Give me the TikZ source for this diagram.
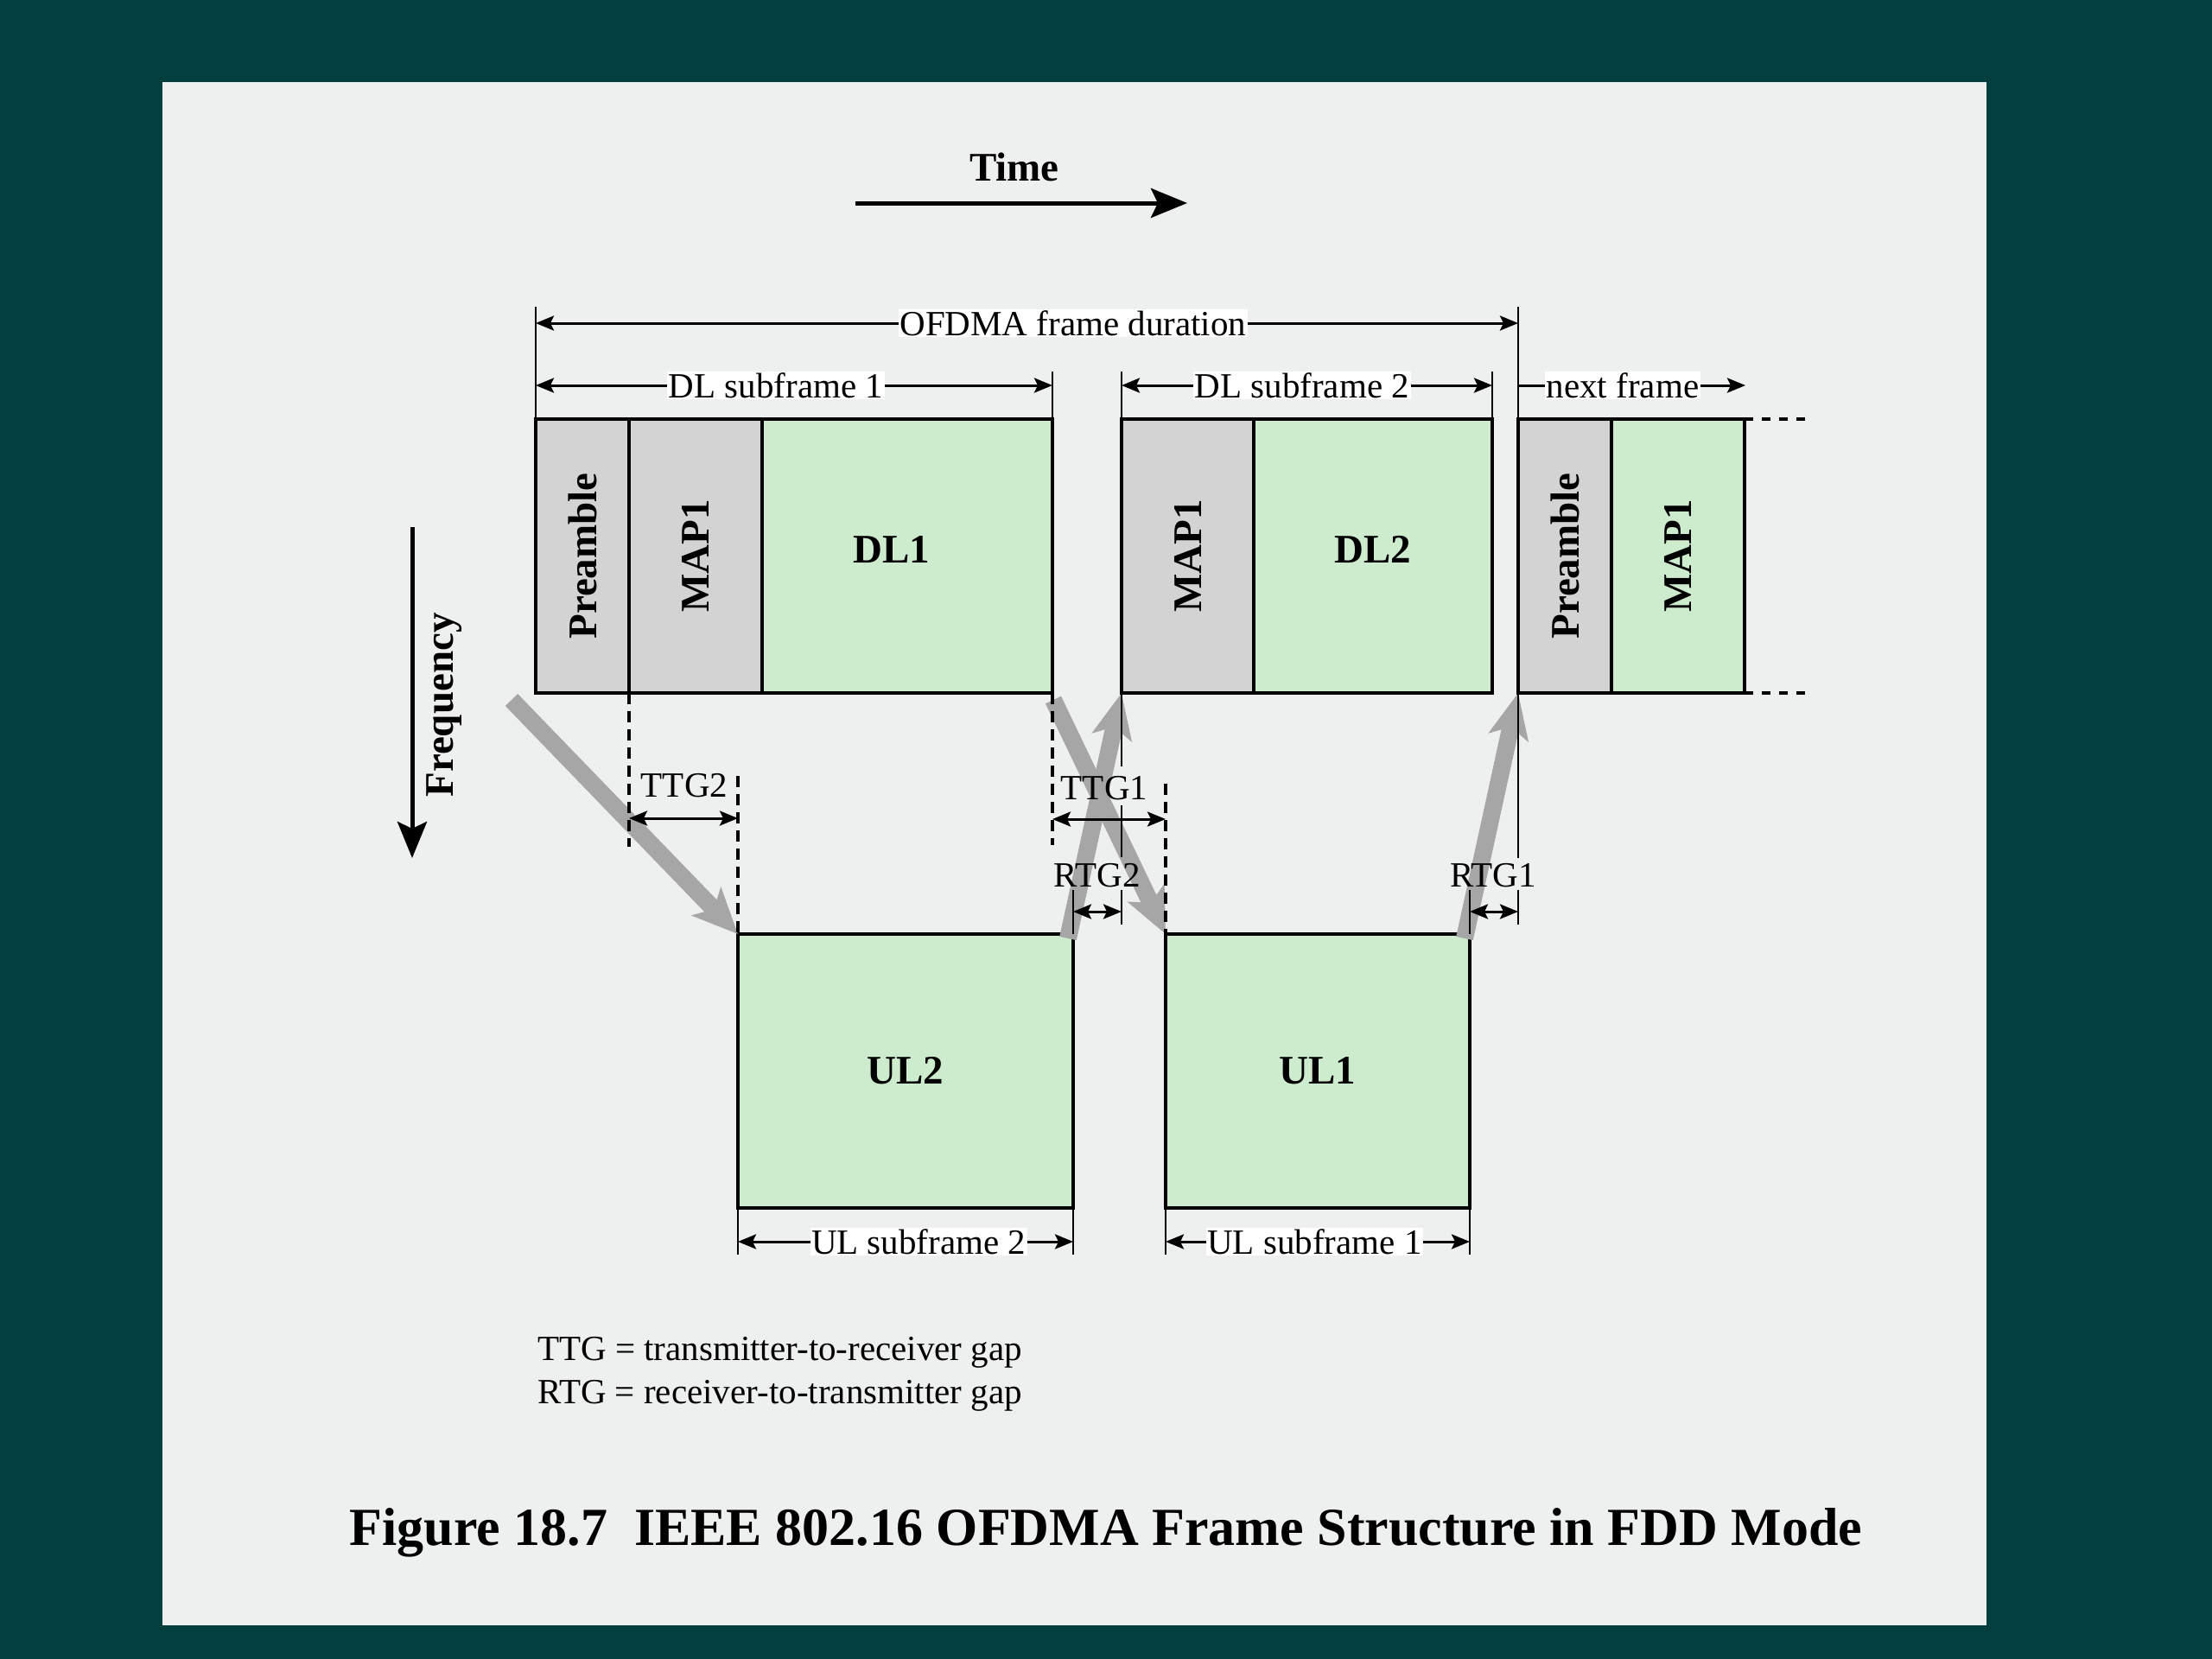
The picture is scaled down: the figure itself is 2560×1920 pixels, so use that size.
\documentclass[tikz,border=0pt]{standalone}
\usepackage{fontspec}
\setmainfont{Liberation Serif}
\usetikzlibrary{arrows.meta}
\definecolor{outerbg}{HTML}{033F3F}
\definecolor{panel}{HTML}{EEF0EF}
\definecolor{boxgray}{HTML}{D3D3D3}
\definecolor{boxgreen}{HTML}{CDEBCD}
\definecolor{arrgray}{HTML}{A6A6A6}
\begin{document}
\begin{tikzpicture}[x=1pt,y=-1pt,
  blk/.style={draw=black, line width=4.5pt, inner sep=0pt, outer sep=0pt, minimum height=317pt, anchor=north west, font=\fontsize{47}{56}\selectfont\bfseries},
  grayblk/.style={blk, fill=boxgray},
  greenblk/.style={blk, fill=boxgreen},
  dimline/.style={line width=3pt, {Stealth[length=21pt,width=17pt,inset=4pt]}-{Stealth[length=21pt,width=17pt,inset=4pt]}},
  oneway/.style={line width=3pt, -{Stealth[length=21pt,width=17pt,inset=4pt]}},
  tickline/.style={line width=2.8pt},
  gapdash/.style={line width=3.8pt, dash pattern=on 13pt off 8pt},
  contdash/.style={line width=4pt, dash pattern=on 10pt off 10pt},
  dlbl/.style={fill=white, inner sep=1.5pt, font=\fontsize{41}{49}\selectfont},
  glbl/.style={inner sep=0pt, font=\fontsize{41}{49}\selectfont},
  garrow/.style={draw=arrgray, line width=20pt, -{Stealth[length=52pt,width=46pt,inset=12pt]}},
  axisarrow/.style={line width=5pt, -{Stealth[length=42pt,width=34pt,inset=8pt]}},
  boldlbl/.style={font=\fontsize{47}{56}\selectfont\bfseries}
]
% background
\useasboundingbox (0,0) rectangle (2560,1920);
\fill[outerbg] (0,0) rectangle (2560,1920);
\fill[panel] (188,95) rectangle (2299,1881);

% Time axis
\node[boldlbl] (timelbl) at (1174,193) {Time};
\coordinate (tS) at (990,235);
\coordinate (tE) at (1374,235);
\draw[axisarrow] (tS) -- (tE);

% Frequency axis
\coordinate (fS) at (477,610);
\coordinate (fE) at (477,993);
\draw[axisarrow] (fS) -- (fE);
\node[boldlbl] (freqlbl) at (514,816) {\rotatebox{90}{Frequency}};

% top boxes
\node[grayblk, minimum width=108pt] (preA) at (620,485) {\rotatebox{90}{Preamble}};
\node[grayblk, minimum width=154pt] (mapA) at (728,485) {\rotatebox{90}{MAP1}};
\node[greenblk, minimum width=336pt] (dl1) at (882,485) {\hspace*{-36pt}\raisebox{16pt}{DL1}};
\node[grayblk, minimum width=153pt] (mapB) at (1298,485) {\rotatebox{90}{MAP1}};
\node[greenblk, minimum width=276pt] (dl2) at (1451,485) {\raisebox{16pt}{DL2}};
\node[grayblk, minimum width=108pt] (preC) at (1757,485) {\rotatebox{90}{Preamble}};
\node[greenblk, minimum width=154pt] (mapC) at (1865,485) {\rotatebox{90}{MAP1}};
% bottom boxes
\node[greenblk, minimum width=388pt] (ul2) at (854,1081) {UL2};
\node[greenblk, minimum width=352pt] (ul1) at (1349,1081) {UL1};

% continuation dashes
\coordinate (cT) at (2093,485);
\coordinate (cB) at (2093,802);
\draw[contdash] (mapC.north east) -- (cT);
\draw[contdash] (mapC.south east) -- (cB);

% gray transition arrows
\coordinate (g1) at (592,810);
\coordinate (g2) at (1219,810);
\coordinate (g3) at (1236,1086);
\coordinate (g4) at (1695,1086);
\draw[garrow] (g1) -- (ul2.north west);
\draw[garrow] (g2) -- (ul1.north west);
\draw[garrow] (g3) -- (mapB.south west);
\draw[garrow] (g4) -- (preC.south west);

% top dimension ticks
\coordinate (kA) at (620,355);
\coordinate (kB) at (1757,355);
\coordinate (kC) at (1218,430);
\coordinate (kD) at (1298,430);
\coordinate (kE) at (1727,430);
\draw[tickline] (kA) -- (preA.north west);
\draw[tickline] (kB) -- (preC.north west);
\draw[tickline] (kC) -- (dl1.north east);
\draw[tickline] (kD) -- (mapB.north west);
\draw[tickline] (kE) -- (dl2.north east);

% top dimensions
\coordinate (oL) at (620,374);  \coordinate (oR) at (1757,374);
\coordinate (d1L) at (620,446); \coordinate (d1R) at (1218,446);
\coordinate (d2L) at (1298,446); \coordinate (d2R) at (1727,446);
\coordinate (nL) at (1757,446); \coordinate (nR) at (2020,446);
\draw[dimline] (oL) -- node[dlbl,pos=0.547]{OFDMA frame duration} (oR);
\draw[dimline] (d1L) -- node[dlbl,pos=0.465]{DL subframe 1} (d1R);
\draw[dimline] (d2L) -- node[dlbl,pos=0.487]{DL subframe 2} (d2R);
\draw[oneway] (nL) -- node[dlbl,pos=0.46]{next frame} (nR);

% bottom dimensions
\coordinate (u2a) at (854,1452); \coordinate (u2b) at (1242,1452);
\coordinate (u1a) at (1349,1452); \coordinate (u1b) at (1701,1452);
\draw[tickline] (ul2.south west) -- (u2a);
\draw[tickline] (ul2.south east) -- (u2b);
\draw[tickline] (ul1.south west) -- (u1a);
\draw[tickline] (ul1.south east) -- (u1b);
\coordinate (su2L) at (854,1437); \coordinate (su2R) at (1242,1437);
\coordinate (su1L) at (1349,1437); \coordinate (su1R) at (1701,1437);
\draw[dimline] (su2L) -- node[dlbl,pos=0.539]{UL subframe 2} (su2R);
\draw[dimline] (su1L) -- node[dlbl,pos=0.49]{UL subframe 1} (su1R);

% TTG2
\coordinate (t2a) at (728,980);
\coordinate (t2b) at (854,898);
\draw[gapdash] (mapA.south west) -- (t2a);
\draw[gapdash] (t2b) -- (ul2.north west);
\coordinate (t2L) at (728,947); \coordinate (t2R) at (854,947);
\draw[dimline] (t2L) -- (t2R);
\node[glbl] (ttg2) at (792,909) {TTG2};

% TTG1
\coordinate (t1a) at (1218,978);
\coordinate (t1b) at (1349,907);
\draw[gapdash] (dl1.south east) -- (t1a);
\draw[gapdash] (t1b) -- (ul1.north west);
\coordinate (t1L) at (1218,948); \coordinate (t1R) at (1349,948);
\draw[dimline] (t1L) -- (t1R);
\node[glbl] (ttg1) at (1278,912) {TTG1};

% RTG2
\coordinate (s1) at (1298,887);
\coordinate (s2) at (1298,932);
\coordinate (s3) at (1298,992);
\coordinate (s4) at (1298,1030);
\coordinate (s5) at (1298,1070);
\draw[tickline] (mapB.south west) -- (s1);
\draw[tickline] (s2) -- (s3);
\draw[tickline] (s4) -- (s5);
\coordinate (r2k) at (1242,1030);
\draw[tickline] (r2k) -- (ul2.north east);
\coordinate (r2L) at (1242,1055); \coordinate (r2R) at (1298,1055);
\draw[dimline] (r2L) -- (r2R);
\node[glbl] (rtg2) at (1270,1013) {RTG2};

% RTG1
\coordinate (q1) at (1757,993);
\coordinate (q2) at (1757,1030);
\coordinate (q3) at (1757,1070);
\draw[tickline] (preC.south west) -- (q1);
\draw[tickline] (q2) -- (q3);
\coordinate (r1k) at (1701,1030);
\draw[tickline] (r1k) -- (ul1.north east);
\coordinate (r1L) at (1701,1055); \coordinate (r1R) at (1757,1055);
\draw[dimline] (r1L) -- (r1R);
\node[glbl] (rtg1) at (1728,1013) {RTG1};

% legend
\node[anchor=west, inner sep=0pt, font=\fontsize{41}{49}\selectfont] (leg1) at (622,1565) {TTG = transmitter-to-receiver gap};
\node[anchor=west, inner sep=0pt, font=\fontsize{41}{49}\selectfont] (leg2) at (622,1615) {RTG = receiver-to-transmitter gap};

% caption
\node[font=\fontsize{62}{74}\selectfont\bfseries] (cap) at (1280,1774) {Figure 18.7\ \ IEEE 802.16 OFDMA Frame Structure in FDD Mode};
\end{tikzpicture}
\end{document}
